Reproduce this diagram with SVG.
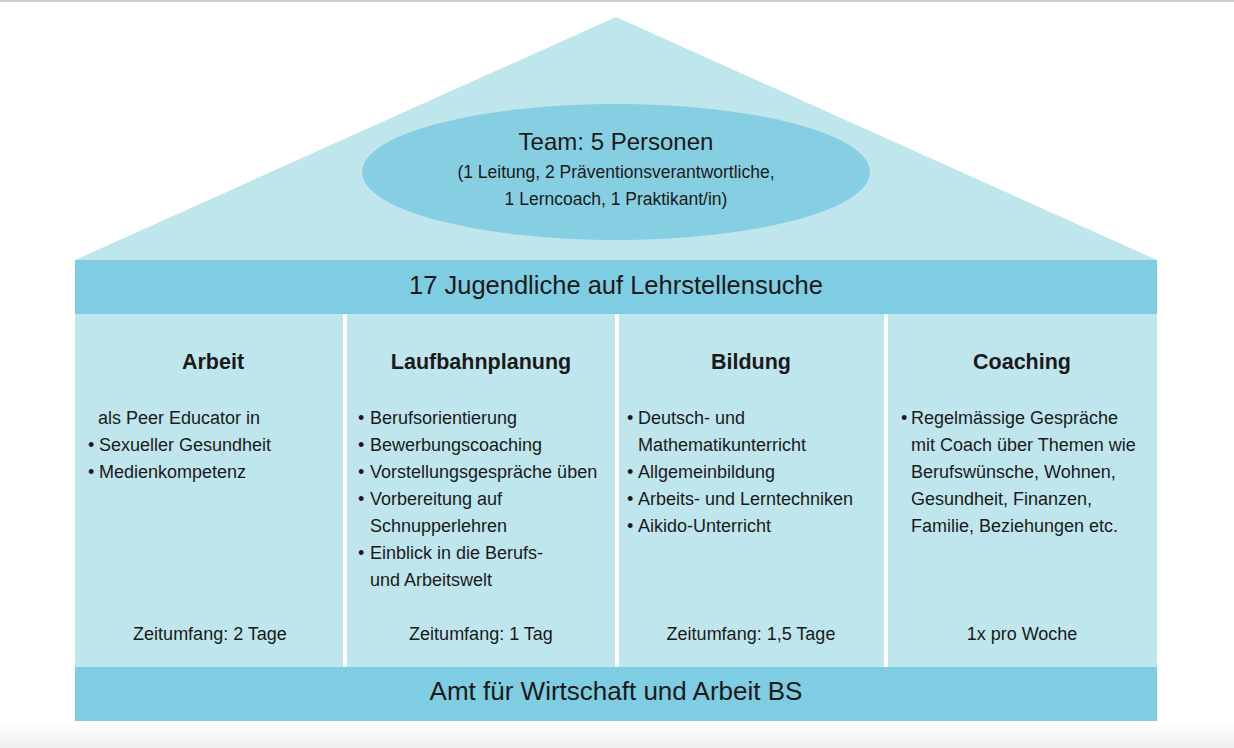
<svg xmlns="http://www.w3.org/2000/svg" width="1234" height="748" viewBox="0 0 1234 748">
<defs>
<linearGradient id="floor" x1="0" y1="0" x2="0" y2="1">
<stop offset="0" stop-color="#ffffff"/>
<stop offset="1" stop-color="#f0f0f0"/>
</linearGradient>
</defs>
<style>
text{font-family:"Liberation Sans",Arial,sans-serif;fill:#1a1a1a}
.big{font-size:25.5px;text-anchor:middle}
.team{font-size:24px;text-anchor:middle}
.sub{font-size:17.5px;text-anchor:middle}
.hd{font-size:21.5px;font-weight:bold;text-anchor:middle}
.b{font-size:18px}
.z{font-size:18px;text-anchor:middle}
.light{fill:#c0e6ed}
.dark{fill:#7fcde2}
</style>
<rect x="0" y="0" width="1234" height="748" fill="#ffffff"/>
<rect x="0" y="0" width="1234" height="2" fill="#cfcfcf"/>
<rect x="0" y="722" width="1234" height="26" fill="url(#floor)"/>

<g id="roof">
<polygon class="light" points="616,17 1157,260 75,260"/>
</g>
<g id="team">
<ellipse cx="616" cy="172" rx="254" ry="68" fill="#86cfe3"/>
<text class="team" x="616" y="150">Team: 5 Personen</text>
<text class="sub" x="616" y="178">(1 Leitung, 2 Präventionsverantwortliche,</text>
<text class="sub" x="616" y="205">1 Lerncoach, 1 Praktikant/in)</text>
</g>
<g id="jugendliche">
<rect class="dark" x="75" y="260" width="1082" height="54"/>
<text class="big" x="616" y="294">17 Jugendliche auf Lehrstellensuche</text>
</g>

<g id="col-arbeit">
<rect class="light" x="75" y="314" width="268" height="353"/>
<text class="hd" x="213" y="369">Arbeit</text>
<text class="b" x="98" y="424">als Peer Educator in</text>
<text class="b" x="88" y="451">•</text><text class="b" x="99" y="451">Sexueller Gesundheit</text>
<text class="b" x="88" y="478">•</text><text class="b" x="99" y="478">Medienkompetenz</text>
<text class="z" x="210" y="640">Zeitumfang: 2 Tage</text>
</g>

<g id="col-laufbahnplanung">
<rect class="light" x="347" y="314" width="268" height="353"/>
<text class="hd" x="481" y="369">Laufbahnplanung</text>
<text class="b" x="358" y="424">•</text><text class="b" x="370" y="424">Berufsorientierung</text>
<text class="b" x="358" y="451">•</text><text class="b" x="370" y="451">Bewerbungscoaching</text>
<text class="b" x="358" y="478">•</text><text class="b" x="370" y="478">Vorstellungsgespräche üben</text>
<text class="b" x="358" y="505">•</text><text class="b" x="370" y="505">Vorbereitung auf</text>
<text class="b" x="370" y="532">Schnupperlehren</text>
<text class="b" x="358" y="559">•</text><text class="b" x="370" y="559">Einblick in die Berufs-</text>
<text class="b" x="370" y="586">und Arbeitswelt</text>
<text class="z" x="481" y="640">Zeitumfang: 1 Tag</text>
</g>

<g id="col-bildung">
<rect class="light" x="619" y="314" width="265" height="353"/>
<text class="hd" x="751" y="369">Bildung</text>
<text class="b" x="627" y="424">•</text><text class="b" x="638" y="424">Deutsch- und</text>
<text class="b" x="638" y="451">Mathematikunterricht</text>
<text class="b" x="627" y="478">•</text><text class="b" x="638" y="478">Allgemeinbildung</text>
<text class="b" x="627" y="505">•</text><text class="b" x="638" y="505">Arbeits- und Lerntechniken</text>
<text class="b" x="627" y="532">•</text><text class="b" x="638" y="532">Aikido-Unterricht</text>
<text class="z" x="751" y="640">Zeitumfang: 1,5 Tage</text>
</g>

<g id="col-coaching">
<rect class="light" x="888" y="314" width="269" height="353"/>
<text class="hd" x="1022" y="369">Coaching</text>
<text class="b" x="901" y="424">•</text><text class="b" x="911" y="424">Regelmässige Gespräche</text>
<text class="b" x="911" y="451">mit Coach über Themen wie</text>
<text class="b" x="911" y="478">Berufswünsche, Wohnen,</text>
<text class="b" x="911" y="505">Gesundheit, Finanzen,</text>
<text class="b" x="911" y="532">Familie, Beziehungen etc.</text>
<text class="z" x="1022" y="640">1x pro Woche</text>
</g>

<g id="amt">
<rect class="dark" x="75" y="667" width="1082" height="54"/>
<text class="big" x="616" y="700" style="font-size:26px">Amt für Wirtschaft und Arbeit BS</text>
</g>

<g id="connectors"></g>
</svg>
